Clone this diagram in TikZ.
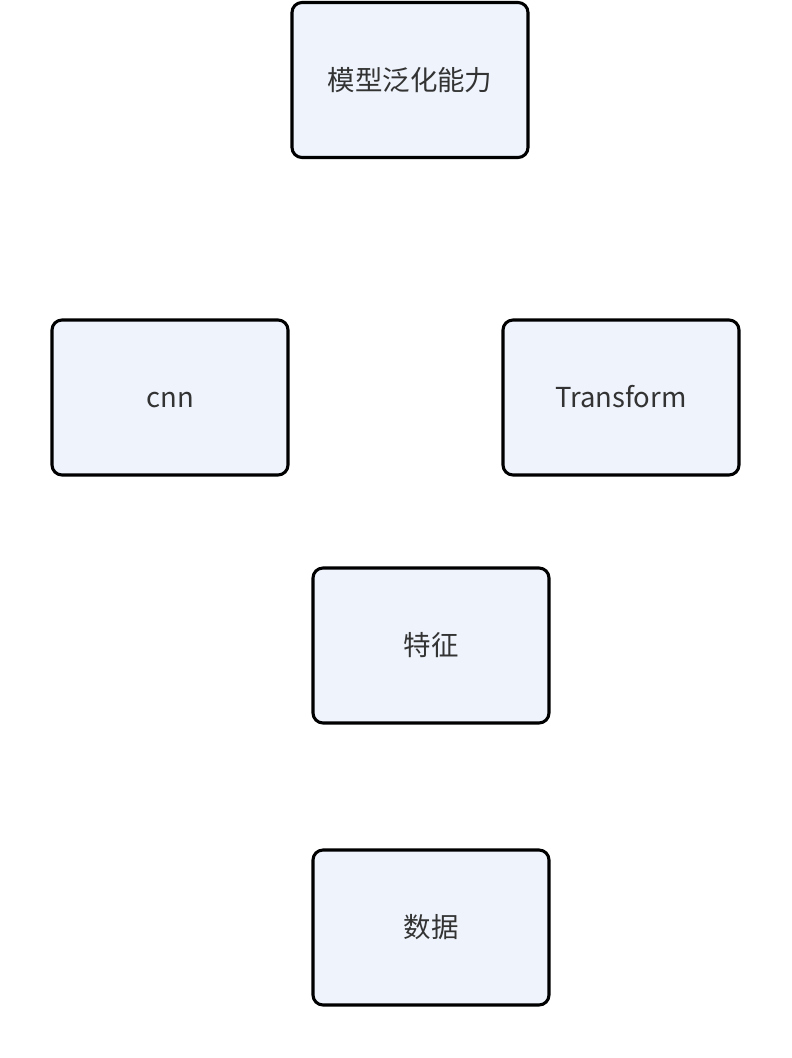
\documentclass[tikz,border=0pt]{standalone}
\usepackage{fontspec}
\setmainfont{Noto Sans CJK SC}
\definecolor{boxfill}{HTML}{EEF3FC}
\definecolor{txt}{HTML}{333333}
\begin{document}
\begin{tikzpicture}[x=0.75pt,y=-0.75pt,
  box/.style={draw=black,line width=2.3pt,fill=boxfill,rounded corners=7.5pt,
    minimum width=177pt,minimum height=116.25pt,inner sep=0pt,
    font=\fontsize{20.6}{24}\selectfont,text=txt,
    text height=18pt,text depth=2.6pt}]
\useasboundingbox (0,0) rectangle (792,1058);
\node[box] (model) at (410,80) {模型泛化能力};
\node[box] (cnn) at (170,397.5) {cnn};
\node[box] (trans) at (621,397.5) {Transform};
\node[box] (feat) at (431,645.5) {特征};
\node[box] (data) at (431,927.5) {数据};
\end{tikzpicture}
\end{document}
